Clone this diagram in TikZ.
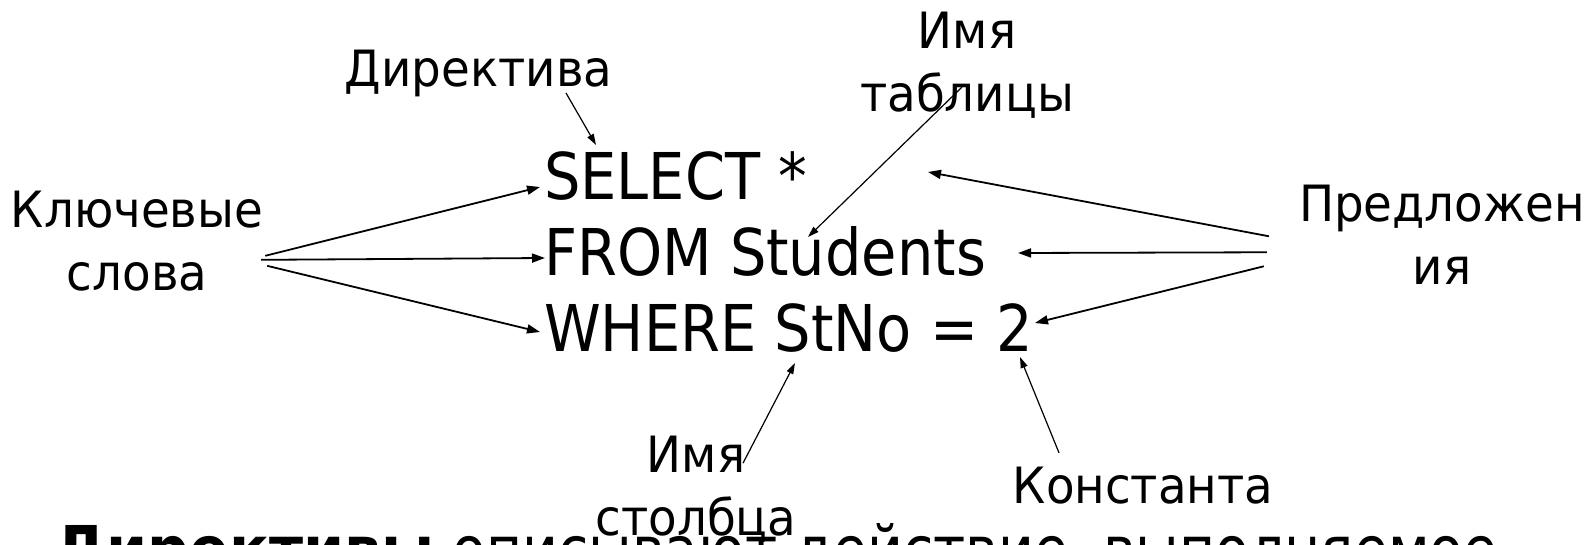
\documentclass[tikz,border=0pt]{standalone}
\usepackage{fontspec}
\setmainfont[FakeStretch=0.89]{DejaVu Sans}
\newfontfamily\labelfont[FakeStretch=0.935]{DejaVu Sans}
\newfontfamily\remarkfont[FakeStretch=0.857]{DejaVu Sans}
\newfontfamily\remarkbold[FakeStretch=0.91]{DejaVu Sans}
\usetikzlibrary{arrows.meta}

\begin{document}
\begin{tikzpicture}[
  x=1pt,y=-1pt,
  sql/.style={anchor=base west,inner sep=0pt,font=\fontsize{64.5}{76}\selectfont},
  note/.style={anchor=base,align=center,inner sep=0pt,font=\labelfont\fontsize{50}{63}\selectfont},
  thick arrow/.style={-{Triangle[length=13pt,width=9pt]},line width=1.8pt},
  thin arrow/.style={-{Triangle[length=11pt,width=7pt]},line width=1.2pt}
]
  \useasboundingbox (0,0) rectangle (1587,545);
  % the query
  \node[sql] (select) at (544,200) {SELECT *};
  \node[sql] (from) at (544,275.7) {FROM Students};
  \node[sql] (where) at (544,351.7) {WHERE StNo = 2};
  % labels round it (base = last line)
  \node[note] (directive) at (478.5,87) {Директива};
  \node[note] (tablename) at (967,111.7) {Имя\\таблицы};
  \node[note] (keywords) at (137,290.2) {Ключевые\\слова};
  \node[note] (clauses) at (1442,285) {Предложен\\ия};
  \node[note] (colname) at (696,535) {Имя\\столбца};
  \node[note] (constant) at (1143,503.3) {Константа};
  \node[sql,font=\remarkfont\fontsize{64.5}{76}\selectfont] (remark) at (54,572)
    {{\remarkbold\bfseries Директивы} описывают действие, выполняемое};
  % where the arrows point
  \coordinate (selecttip) at (540,187);
  \coordinate (fromtip) at (545,258);
  \coordinate (wheretip) at (540,332);
  \coordinate (startip) at (928,172);
  \coordinate (studentstip) at (1018,253);
  \coordinate (twotip) at (1035,323);
  \coordinate (directivetip) at (596,145);
  \coordinate (utip) at (808,237);
  \coordinate (stnotip) at (795,363);
  \coordinate (consttip) at (1020,357);
  % keywords and clauses
  \draw[thick arrow] ([shift={(2,15)}]keywords.east) -- (selecttip);
  \draw[thick arrow] ([shift={(-2,19)}]keywords.east) -- (fromtip);
  \draw[thick arrow] ([shift={(4,25)}]keywords.east) -- (wheretip);
  \draw[thick arrow] ([shift={(-30,1)}]clauses.west) -- (startip);
  \draw[thick arrow] ([shift={(-32,17)}]clauses.west) -- (studentstip);
  \draw[thick arrow] ([shift={(-35,31)}]clauses.west) -- (twotip);
  % names and values
  \draw[thin arrow] ([shift={(87.5,6)}]directive.base) -- (directivetip);
  \draw[thin arrow] ([shift={(-5,-31.7)}]tablename.south) -- (utip);
  \draw[thin arrow] ([shift={(47,27.8)}]colname.north) -- (stnotip);
  \draw[thin arrow] ([shift={(-84,-13.8)}]constant.north) -- (consttip);
\end{tikzpicture}
\end{document}
